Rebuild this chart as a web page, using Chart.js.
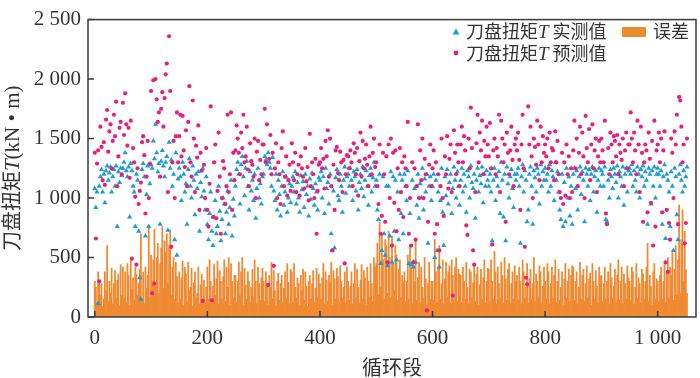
<!DOCTYPE html>
<html>
<head>
<meta charset="utf-8">
<script src="https://cdn.jsdelivr.net/npm/chart.js@4.4.1/dist/chart.umd.min.js"></script>
<style>
  html, body { margin: 0; padding: 0; background: #fff; }
  #wrap { width: 700px; height: 378px; }
</style>
</head>
<body>
<div id="wrap"><canvas id="myChart" width="700" height="378"></canvas></div>
<script>
// one value every 2 cycles
const measured = [
  1080, 920, 1050, 113, 1100, 1180, 1240, 1050, 1200, 960, 1230, 1270, 1150, 1210, 1260, 1050, 1180, 1240, 1100, 1270, 760, 1220, 1130, 1250, 1190,
  1250, 1300, 1380, 1230, 1180, 1260, 840, 1290, 1230, 1100, 1050, 760, 1200, 1150, 720, 330, 150, 1240, 1290, 1180, 680, 1030, 1270, 760, 1120,
  1280, 1250, 1480, 1330, 1620, 1380, 1220, 1290, 780, 1310, 1400, 1270, 1180, 1300, 1350, 730, 1470, 1250, 1320, 1100, 1200, 650, 1380, 520, 1160,
  1250, 1180, 980, 1300, 1200, 1050, 1120, 780, 1240, 1330, 1100, 1000, 1270, 1150, 860, 1200, 1080, 1220, 720, 1130, 1010, 1250, 1060, 900, 1180,
  780, 650, 870, 1050, 720, 600, 840, 980, 700, 760, 1100, 890, 640, 820, 1000, 950, 700, 880, 1060, 780, 920, 1150, 680, 990, 850,
  1100, 1240, 1300, 1200, 950, 1280, 1350, 1180, 1020, 1250, 1310, 1100, 900, 1220, 1060, 1150, 980, 1200, 830, 1080, 1250, 1000, 1120, 950, 1180,
  1200, 1350, 1320, 1280, 1380, 1300, 1250, 1100, 1340, 1060, 980, 1200, 900, 1150, 1030, 850, 1100, 1220, 940, 1050, 1180, 880, 1000, 1120, 960,
  1100, 1180, 1050, 1220, 950, 1130, 1000, 880, 1190, 1070, 1140, 920, 1200, 1030, 1100, 850, 1160, 990, 1210, 1080, 940, 1120, 1050, 900, 1170,
  1150, 1220, 1000, 1180, 870, 1250, 1080, 1130, 950, 1200, 700, 560, 1060, 580, 1170, 1240, 1020, 980, 1200, 1100, 880, 1150, 1260, 1040, 1180,
  1200, 1100, 1250, 1150, 980, 1220, 1180, 1060, 1240, 900, 1130, 1200, 1080, 1260, 1010, 1150, 1230, 1100, 940, 1190, 1250, 1050, 1170, 1300, 1100,
  1150, 900, 820, 1200, 450, 560, 1180, 700, 520, 1100, 430, 1100, 680, 1220, 460, 1180, 720, 1150, 480, 1050, 650, 1200, 870, 1150, 700,
  1200, 1100, 980, 1230, 450, 870, 440, 1150, 420, 1080, 460, 940, 1200, 830, 1120, 1000, 1250, 900, 1160, 1050, 1200, 620, 1100, 1180, 980,
  1100, 1200, 500, 1150, 560, 1050, 420, 980, 1250, 880, 600, 1180, 1020, 1240, 950, 1130, 1200, 870, 1080, 1260, 1150, 1000, 1220, 1100, 940,
  1150, 1250, 1050, 1200, 1100, 880, 1230, 1180, 1000, 1270, 1130, 1080, 1200, 830, 1150, 1250, 1050, 1190, 1120, 1260, 960, 1200, 1100, 1230, 1150,
  1100, 1200, 1050, 640, 1150, 1250, 980, 1180, 1100, 1220, 870, 1300, 1150, 840, 1200, 640, 1260, 1120, 1000, 1180, 1240, 1080, 920, 1200, 1150,
  1200, 1250, 1100, 620, 1180, 1280, 1050, 1230, 1150, 800, 900, 1200, 1260, 1100, 780, 1230, 1170, 1050, 1250, 1200, 950, 1280, 1100, 1220, 1150,
  1250, 1150, 1200, 1050, 1280, 1100, 1230, 1180, 980, 1300, 1150, 1220, 1050, 900, 820, 1200, 760, 1130, 800, 1250, 1000, 1180, 850, 1100, 780,
  1200, 1250, 1080, 1230, 900, 1180, 1260, 1030, 1220, 1150, 800, 1250, 1200, 1100, 1240, 980, 1200, 1260, 1050, 1180, 1230, 880, 1150, 1250, 1100,
  1230, 1200, 1100, 1260, 820, 800, 1150, 1000, 1240, 1180, 1080, 1250, 1200, 1130, 1270, 1000, 1220, 1180, 1100, 1260, 940, 1200, 1250, 1050, 1230,
  1250, 1200, 1280, 1100, 1230, 1150, 1050, 1260, 1200, 1000, 1240, 1180, 1270, 1100, 1220, 1150, 780, 1250, 1200, 950, 1230, 1100, 1260, 1000, 1200,
  1250, 1200, 1100, 1230, 780, 1180, 1280, 660, 1200, 1150, 1050, 760, 1220, 1100, 560, 1250, 1180, 860, 650, 1200, 1280, 1150, 1050, 1230, 1100,
  1180, 1260
];
const predicted = [
  1380, 660, 1290, 1400, 300, 1600, 1430, 1150, 1470, 1110, 1660, 1740, 1390, 1560, 1620, 1250, 1480, 1700, 1520, 1810, 1100, 1350, 1590, 1640, 1200,
  1800, 1530, 1880, 1620, 1440, 1590, 1170, 1650, 490, 1420, 1300, 1010, 440, 1250, 950, 1060, 1130, 1470, 1520, 1360, 870, 1180, 1480, 1000, 1290,
  1900, 200, 1990, 280, 2000, 1830, 1640, 1720, 1180, 1750, 1890, 1600, 1840, 2040, 2130, 1050, 2360, 1900, 590, 1300, 1480, 1000, 1520, 1720, 1300,
  1520, 1700, 1350, 1690, 1400, 1260, 1570, 1100, 1640, 1940, 1300, 1180, 1820, 1500, 1050, 1440, 1340, 1610, 900, 1380, 1230, 135, 1280, 1000, 1420,
  900, 760, 1120, 1770, 140, 840, 1300, 1450, 830, 1060, 1550, 1180, 700, 1000, 1310, 1250, 950, 1100, 1700, 1050, 1200, 1720, 900, 1380, 1150,
  1400, 1610, 1500, 1380, 1200, 1550, 1420, 1700, 1300, 1350, 1600, 1240, 1100, 1460, 1310, 1280, 1180, 1500, 1000, 1390, 1480, 1150, 1320, 1200, 1450,
  1450, 1750, 1300, 1620, 270, 1330, 1530, 1200, 1380, 430, 1250, 1460, 1000, 1300, 1200, 950, 1420, 1560, 1100, 1180, 1350, 1020, 1150, 1280, 1060,
  1460, 1300, 1150, 1380, 1050, 1200, 1280, 1020, 1350, 1250, 1180, 1080, 1420, 1140, 1260, 980, 1540, 1100, 1300, 1200, 1000, 1330, 700, 1060, 1280,
  1300, 1420, 1250, 1330, 1080, 1480, 1350, 1570, 1180, 1500, 1100, 560, 1280, 900, 1400, 1430, 1210, 1150, 1390, 1300, 1050, 1320, 450, 1200, 1360,
  1350, 1250, 1400, 1300, 1100, 1460, 1380, 1200, 1420, 1020, 1310, 1550, 1180, 1480, 1250, 1330, 1450, 1280, 1100, 1350, 1600, 1200, 1380, 1500, 1260,
  1300, 1100, 950, 1450, 700, 850, 1380, 1200, 800, 1350, 460, 1450, 1000, 1500, 600, 1380, 960, 1400, 720, 1250, 900, 1420, 1050, 1300, 840,
  1350, 1250, 1100, 1640, 700, 1000, 600, 1300, 460, 1250, 650, 1100, 1620, 1000, 1400, 1150, 1500, 1000, 1330, 1200, 55, 800, 1280, 1450, 1100,
  1250, 1400, 700, 1300, 780, 1200, 560, 1100, 1500, 1000, 850, 1350, 1200, 1520, 1080, 1330, 1450, 1050, 180, 1570, 1380, 1200, 1450, 1300, 1100,
  1450, 1600, 1300, 1520, 1400, 770, 690, 1500, 1250, 1760, 1420, 560, 440, 1050, 1460, 1700, 1300, 1550, 1400, 1650, 1200, 1480, 1350, 1600, 1450,
  1350, 1630, 1250, 610, 1400, 1500, 1200, 1420, 1350, 1700, 1050, 1650, 1500, 1300, 1450, 800, 1550, 1380, 1200, 1400, 1600, 1320, 1100, 1450, 1500,
  1400, 1550, 1320, 900, 1450, 1700, 1250, 590, 330, 275, 1770, 1450, 1600, 1350, 1000, 1500, 1430, 1280, 1650, 1450, 1150, 1600, 1300, 1520, 1380,
  1450, 1350, 1500, 1250, 1550, 1300, 1420, 1400, 1150, 1560, 1300, 1480, 1200, 1050, 1000, 1380, 950, 1300, 1020, 1450, 1200, 1350, 1000, 1250, 1050,
  1400, 1650, 1250, 1500, 1100, 1380, 1600, 1200, 1550, 1350, 1000, 1690, 1420, 1300, 1580, 1150, 1450, 1620, 1250, 1400, 1500, 1050, 1350, 1480, 1300,
  1500, 1400, 1300, 1650, 870, 780, 1420, 1200, 1550, 1450, 1300, 1520, 1480, 1350, 1530, 1200, 1450, 1380, 1320, 1500, 1100, 1400, 1550, 1250, 1450,
  1450, 1720, 1500, 1300, 1550, 1400, 1200, 1650, 1450, 1050, 1600, 1380, 800, 1300, 1450, 1400, 880, 1550, 1330, 960, 1480, 600, 1650, 760, 1400,
  1450, 1550, 1300, 1500, 880, 1400, 1560, 460, 900, 380, 790, 650, 1500, 1380, 1000, 1560, 1450, 1700, 780, 1850, 1820, 1600, 1300, 1450, 620,
  790, 1500
];
const errors = [
  300, 250, 120, 380, 300, 180, 280, 90, 150, 380, 220, 600, 130, 300, 200, 410, 110, 280, 390, 160, 310, 360, 90, 440, 180,
  420, 160, 380, 120, 450, 350, 100, 480, 230, 330, 140, 420, 360, 180, 280, 400, 700, 150, 380, 110, 420, 240, 350, 760, 170,
  520, 300, 480, 740, 260, 500, 620, 200, 450, 580, 760, 240, 640, 540, 700, 280, 600, 730, 180, 420, 500, 150, 460, 340, 120,
  380, 150, 330, 470, 100, 420, 360, 130, 460, 220, 250, 410, 90, 290, 380, 160, 200, 420, 110, 270, 360, 150, 310, 120, 250,
  420, 150, 480, 300, 120, 260, 440, 180, 320, 470, 110, 390, 300, 150, 340, 480, 130, 420, 250, 500, 100, 450, 300, 160, 350,
  350, 120, 300, 460, 180, 380, 500, 100, 410, 270, 150, 380, 300, 120, 250, 400, 170, 480, 300, 110, 420, 280, 140, 330, 410,
  300, 130, 380, 280, 100, 350, 250, 460, 150, 390, 220, 90, 300, 370, 140, 280, 350, 120, 240, 380, 160, 450, 290, 110, 400,
  380, 120, 450, 250, 160, 330, 280, 100, 350, 220, 400, 140, 380, 260, 90, 300, 350, 150, 280, 390, 120, 240, 410, 170, 360,
  280, 150, 330, 450, 110, 380, 310, 130, 350, 290, 460, 100, 390, 320, 150, 410, 340, 120, 430, 300, 160, 250, 380, 110, 420,
  300, 140, 260, 380, 110, 280, 450, 160, 400, 250, 120, 310, 440, 150, 390, 330, 100, 420, 300, 170, 450, 280, 130, 500, 420,
  450, 620, 180, 800, 250, 700, 480, 150, 650, 600, 200, 720, 500, 160, 680, 450, 220, 600, 520, 140, 400, 480, 160, 350, 300,
  380, 130, 300, 520, 150, 600, 420, 110, 480, 300, 650, 140, 330, 460, 120, 420, 250, 160, 500, 320, 100, 280, 460, 150, 300,
  300, 140, 650, 380, 120, 420, 600, 150, 280, 480, 110, 320, 460, 170, 380, 430, 120, 480, 350, 140, 420, 500, 130, 400, 360,
  350, 120, 420, 300, 150, 460, 250, 110, 400, 380, 160, 290, 450, 130, 360, 420, 100, 270, 400, 150, 330, 480, 120, 300, 410,
  400, 130, 480, 300, 150, 550, 380, 110, 420, 280, 160, 460, 350, 120, 500, 320, 140, 400, 450, 110, 280, 380, 150, 430, 300,
  350, 140, 420, 300, 110, 480, 380, 160, 250, 450, 120, 320, 400, 150, 280, 500, 130, 360, 300, 170, 430, 380, 110, 260, 420,
  300, 150, 450, 380, 110, 280, 420, 160, 350, 480, 120, 300, 400, 140, 250, 380, 100, 320, 450, 160, 300, 400, 130, 350, 430,
  420, 140, 300, 380, 110, 250, 460, 150, 350, 400, 130, 280, 430, 160, 320, 370, 100, 450, 300, 150, 390, 260, 120, 420, 340,
  350, 130, 280, 420, 150, 300, 380, 110, 450, 330, 160, 260, 400, 120, 350, 480, 140, 300, 420, 110, 360, 280, 150, 430, 330,
  300, 140, 420, 380, 110, 250, 450, 160, 330, 280, 120, 400, 360, 150, 300, 420, 620, 130, 350, 260, 100, 380, 450, 150, 320,
  300, 130, 350, 420, 150, 300, 450, 120, 380, 500, 160, 420, 350, 550, 140, 400, 600, 180, 480, 940, 200, 650, 900, 300, 720,
  400, 200
];
const cycles = measured.map((v, i) => i * 2);

const xTicks = [0, 200, 400, 600, 800, 1000];
const xTickLabels = ["0", "200", "400", "600", "800", "1 000"];
const yTicks = [0, 500, 1000, 1500, 2000, 2500];
const yTickLabels = ["0", "500", "1 000", "1 500", "2 000", "2 500"];

const SERIF = "'Liberation Serif', 'DejaVu Serif', serif";
const CJK = "'Noto Sans CJK SC', 'Noto Sans', sans-serif";
const TEXT = "#333";
const BLUE = "#1e9cd8";
const PINK = "#e8207a";
const ORANGE = "#f08a32";

// draws a row of text pieces with different fonts, left to right
function drawParts(ctx, parts, x, y) {
  parts.forEach((p) => {
    ctx.font = p.f;
    ctx.fillText(p.t, x, y);
    x += ctx.measureText(p.t).width;
  });
}
function partsWidth(ctx, parts) {
  let w = 0;
  parts.forEach((p) => { ctx.font = p.f; w += ctx.measureText(p.t).width; });
  return w;
}

const decor = {
  id: "decor",
  afterDraw(chart) {
    const ctx = chart.ctx;
    const a = chart.chartArea;
    const xs = chart.scales.x;
    const ys = chart.scales.y;
    ctx.save();

    // frame + inward ticks
    ctx.strokeStyle = "#3a3a3a";
    ctx.lineWidth = 1.5;
    ctx.strokeRect(a.left, a.top, a.right - a.left, a.bottom - a.top);
    ctx.beginPath();
    xTicks.forEach((v) => {
      const px = xs.getPixelForValue(v);
      ctx.moveTo(px, a.bottom);
      ctx.lineTo(px, a.bottom - 6);
    });
    yTicks.forEach((v) => {
      const py = ys.getPixelForValue(v);
      ctx.moveTo(a.left, py);
      ctx.lineTo(a.left + 6, py);
    });
    ctx.stroke();

    ctx.fillStyle = TEXT;
    ctx.textBaseline = "alphabetic";

    // x title
    ctx.font = "20px " + CJK;
    ctx.textAlign = "center";
    ctx.fillText("循环段", (a.left + a.right) / 2, 375);
    ctx.textAlign = "left";

    // y title, rotated
    const yParts = [
      { t: "刀盘扭矩", f: "20px " + CJK },
      { t: "T", f: "italic 21px " + SERIF },
      { t: "(kN • m)", f: "21px " + SERIF },
    ];
    ctx.save();
    ctx.translate(19, (a.top + a.bottom) / 2);
    ctx.rotate(-Math.PI / 2);
    drawParts(ctx, yParts, -partsWidth(ctx, yParts) / 2, 0);
    ctx.restore();

    // legend
    ctx.fillStyle = BLUE;
    ctx.beginPath();
    ctx.moveTo(456, 28.5);
    ctx.lineTo(459.5, 34.5);
    ctx.lineTo(452.5, 34.5);
    ctx.closePath();
    ctx.fill();
    ctx.fillStyle = PINK;
    ctx.beginPath();
    ctx.arc(456, 53, 2.4, 0, Math.PI * 2);
    ctx.fill();
    ctx.fillStyle = ORANGE;
    ctx.fillRect(622, 27, 24, 10);

    ctx.fillStyle = TEXT;
    drawParts(ctx, [
      { t: "刀盘扭矩", f: "18px " + CJK },
      { t: "T", f: "italic 19px " + SERIF },
      { t: " 实测值", f: "18px " + CJK },
    ], 466, 38);
    drawParts(ctx, [
      { t: "刀盘扭矩", f: "18px " + CJK },
      { t: "T", f: "italic 19px " + SERIF },
      { t: " 预测值", f: "18px " + CJK },
    ], 466, 60);
    ctx.font = "18px " + CJK;
    ctx.fillText("误差", 653, 38);

    ctx.restore();
  },
};

const ctx = document.getElementById("myChart").getContext("2d");
const myChart = new Chart(ctx, {
  type: "bar",
  data: {
    datasets: [
      {
        type: "scatter",
        label: "刀盘扭矩T 预测值",
        data: cycles.map((c, i) => ({ x: c, y: predicted[i] })),
        pointStyle: "circle",
        pointRadius: 2.1,
        backgroundColor: PINK,
        borderWidth: 0,
        order: 1,
      },
      {
        type: "scatter",
        label: "刀盘扭矩T 实测值",
        data: cycles.map((c, i) => ({ x: c, y: measured[i] })),
        pointStyle: "triangle",
        pointRadius: 3,
        backgroundColor: BLUE,
        borderWidth: 0,
        order: 2,
      },
      {
        type: "bar",
        label: "误差",
        data: cycles.map((c, i) => ({ x: c, y: errors[i] })),
        backgroundColor: ORANGE,
        borderWidth: 0,
        barPercentage: 1,
        categoryPercentage: 1,
        order: 3,
      },
    ],
  },
  options: {
    responsive: false,
    animation: false,
    layout: { padding: { left: 0, right: 2, top: 7, bottom: 0 } },
    plugins: { legend: { display: false }, tooltip: { enabled: false } },
    scales: {
      x: {
        type: "linear",
        min: -12,
        max: 1068,
        offset: false,
        grid: { display: false, drawTicks: false },
        border: { display: false },
        afterBuildTicks: (scale) => { scale.ticks = xTicks.map((v) => ({ value: v })); },
        afterFit: (scale) => { scale.height = 61; },
        ticks: {
          autoSkip: false,
          maxRotation: 0,
          padding: 9,
          color: TEXT,
          font: { family: SERIF, size: 21 },
          callback: (v) => xTickLabels[xTicks.indexOf(v)],
        },
      },
      y: {
        min: 0,
        max: 2500,
        grid: { display: false, drawTicks: false },
        border: { display: false },
        afterBuildTicks: (scale) => { scale.ticks = yTicks.map((v) => ({ value: v })); },
        afterFit: (scale) => { scale.width = 88; },
        ticks: {
          padding: 7,
          color: TEXT,
          font: { family: SERIF, size: 21 },
          callback: (v) => yTickLabels[yTicks.indexOf(v)],
        },
      },
    },
  },
  plugins: [decor],
});
</script>
</body>
</html>
